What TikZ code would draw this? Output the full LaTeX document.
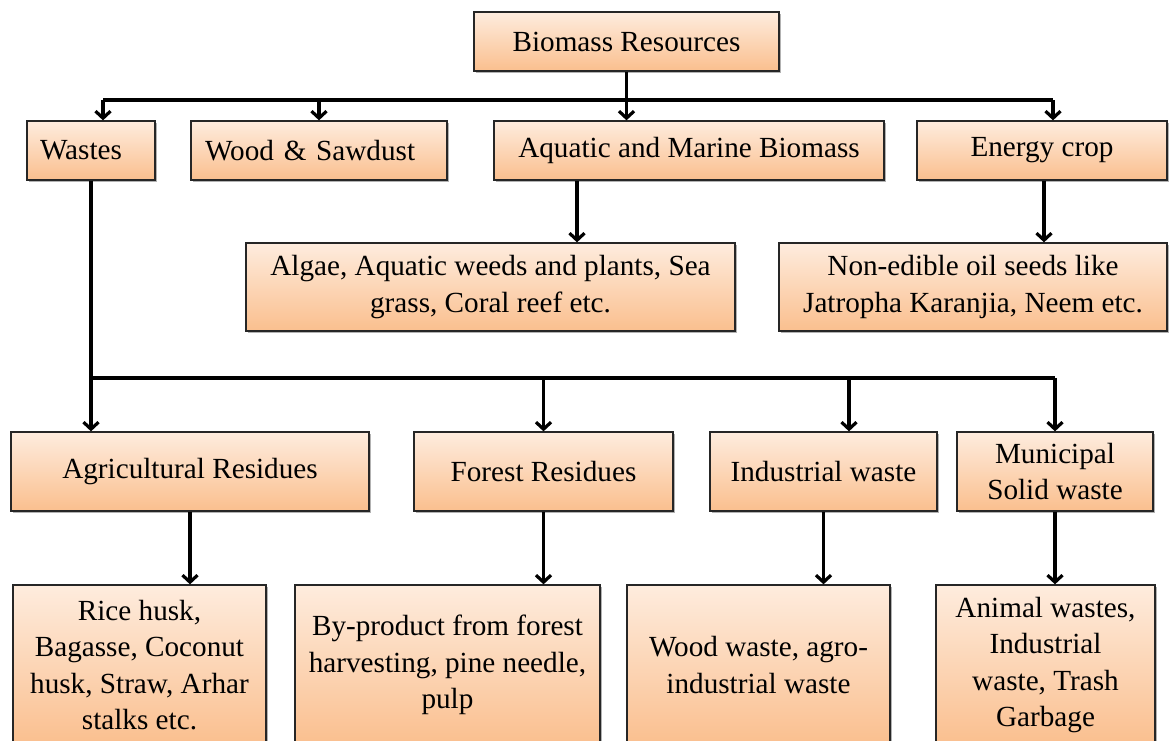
\documentclass[tikz,border=0pt]{standalone}
\usepackage{fontspec}
\setmainfont{Liberation Serif}
\usetikzlibrary{arrows.meta,shadows}
\definecolor{boxtop}{RGB}{254,236,222}
\definecolor{boxbot}{RGB}{250,191,142}
\tikzset{
  box/.style={draw=black!85, line width=1.3pt, rectangle, inner sep=0pt, align=center,
    top color=boxtop, bottom color=boxbot,
    drop shadow={shadow xshift=2pt, shadow yshift=-2pt, opacity=0.3, fill=black},
    font=\fontsize{29.2}{36.5}\selectfont},
  conn/.style={line width=3.2pt, black},
  arr/.style={conn, -{Straight Barb[length=7pt,width=15pt]}}
}
\begin{document}
\begin{tikzpicture}[x=1pt,y=-1pt]
\useasboundingbox (0,0) rectangle (1169,740);
% level 0
\node[box, minimum width=305pt, minimum height=59pt] (bio) at (626.5,41.5) {Biomass Resources};
% level 1
\node[box, minimum height=59pt, text width=102pt, inner xsep=13pt, align=left] (wastes) at (91,150.5) {Wastes};
\node[box, minimum height=59pt, text width=228pt, inner xsep=14pt, align=left] (wood) at (319,150.5) {Wood \& Sawdust};
\node[box, minimum width=390pt, minimum height=59pt] (aquatic) at (689,150.5) {Aquatic and Marine Biomass};
\node[box, minimum width=250pt, minimum height=59pt] (energy) at (1042,150.5) {Energy crop};
% level 2
\node[box, minimum width=489pt, minimum height=88pt] (algae) at (490.5,287) {Algae, Aquatic weeds and plants, Sea\\grass, Coral reef etc.};
\node[box, minimum width=388pt, minimum height=88pt] (nonedible) at (973,287) {Non-edible oil seeds like\\Jatropha Karanjia, Neem etc.};
% level 3
\node[box, minimum width=358pt, minimum height=79pt] (agri) at (190,471.5) {Agricultural Residues};
\node[box, minimum width=259pt, minimum height=79pt] (forest) at (543.5,471.5) {Forest Residues};
\node[box, minimum width=227pt, minimum height=79pt] (industrial) at (823.5,471.5) {Industrial waste};
\node[box, minimum width=196pt, minimum height=79pt] (municipal) at (1055,471.5) {Municipal\\Solid waste};
% level 4
\node[box, minimum width=253pt, minimum height=160pt] (rice) at (139.5,665) {Rice husk,\\Bagasse, Coconut\\husk, Straw, Arhar\\stalks etc.};
\node[box, minimum width=305pt, minimum height=160pt] (byprod) at (447.5,665) {By-product from forest\\harvesting, pine needle,\\pulp};
\node[box, minimum width=263pt, minimum height=160pt] (woodwaste) at (758.5,665) {Wood waste, agro-\\industrial waste};
\node[box, minimum width=219pt, minimum height=160pt] (animal) at (1045.5,665) {Animal wastes,\\Industrial\\waste, Trash\\Garbage};
% top bus
\coordinate (busL) at (103,100);
\coordinate (busR) at (1053,100);
\draw[conn] (busL) -- (busR);
\draw[arr] (bio.south) -- (bio.south |- aquatic.north);
\draw[arr] (busL) -- (busL |- wastes.north);
\draw[arr] (wood.north |- busL) -- (wood.north);
\draw[arr] (busR) -- (busR |- energy.north);
% to level 2
\draw[arr] (577,0 |- aquatic.south) -- (577,0 |- algae.north);
\draw[arr] (1044,0 |- energy.south) -- (1044,0 |- nonedible.north);
% wastes bus
\coordinate (wbL) at (91,378);
\coordinate (wbR) at (1055,378);
\draw[conn] (wastes.south) -- (wbL) -- (wbR);
\draw[arr] (wbL) -- (wbL |- agri.north);
\draw[arr] (forest.north |- wbL) -- (forest.north);
\draw[arr] (849,0 |- wbL) -- (849,0 |- industrial.north);
\draw[arr] (wbR) -- (wbR |- municipal.north);
% to level 4
\draw[arr] (agri.south) -- (agri.south |- rice.north);
\draw[arr] (forest.south) -- (forest.south |- byprod.north);
\draw[arr] (industrial.south) -- (industrial.south |- woodwaste.north);
\draw[arr] (municipal.south) -- (municipal.south |- animal.north);
\end{tikzpicture}
\end{document}
